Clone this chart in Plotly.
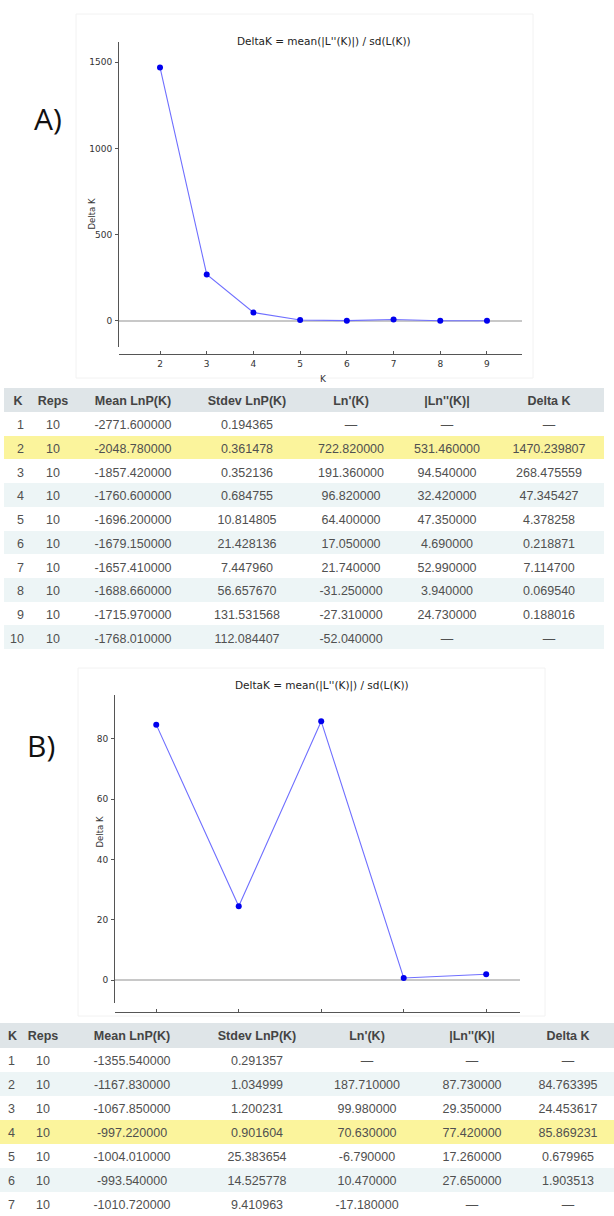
import plotly.graph_objects as go

W, H = 614, 1216

# ---------- data ----------
k_a = [2, 3, 4, 5, 6, 7, 8, 9]
delta_a = [1470.239807, 268.475559, 47.345427, 4.378258, 0.218871, 7.114700, 0.069540, 0.188016]

k_b = [2, 3, 4, 5, 6]
delta_b = [84.763395, 24.453617, 85.869231, 0.679965, 1.903513]

headers = ["K", "Reps", "Mean LnP(K)", "Stdev LnP(K)", "Ln'(K)", "|Ln''(K)|", "Delta K"]

ta_k = ["1", "2", "3", "4", "5", "6", "7", "8", "9", "10"]
ta_reps = ["10"] * 10
ta_mean = ["-2771.600000", "-2048.780000", "-1857.420000", "-1760.600000", "-1696.200000",
           "-1679.150000", "-1657.410000", "-1688.660000", "-1715.970000", "-1768.010000"]
ta_std = ["0.194365", "0.361478", "0.352136", "0.684755", "10.814805",
          "21.428136", "7.447960", "56.657670", "131.531568", "112.084407"]
ta_ln1 = ["—", "722.820000", "191.360000", "96.820000", "64.400000",
          "17.050000", "21.740000", "-31.250000", "-27.310000", "-52.040000"]
ta_ln2 = ["—", "531.460000", "94.540000", "32.420000", "47.350000",
          "4.690000", "52.990000", "3.940000", "24.730000", "—"]
ta_dk = ["—", "1470.239807", "268.475559", "47.345427", "4.378258",
         "0.218871", "7.114700", "0.069540", "0.188016", "—"]

tb_k = ["1", "2", "3", "4", "5", "6", "7"]
tb_reps = ["10"] * 7
tb_mean = ["-1355.540000", "-1167.830000", "-1067.850000", "-997.220000",
           "-1004.010000", "-993.540000", "-1010.720000"]
tb_std = ["0.291357", "1.034999", "1.200231", "0.901604", "25.383654", "14.525778", "9.410963"]
tb_ln1 = ["—", "187.710000", "99.980000", "70.630000", "-6.790000", "10.470000", "-17.180000"]
tb_ln2 = ["—", "87.730000", "29.350000", "77.420000", "17.260000", "27.650000", "—"]
tb_dk = ["—", "84.763395", "24.453617", "85.869231", "0.679965", "1.903513", "—"]

# ---------- helpers ----------
def px_x(x):
    return x / W

def px_y(y):
    return 1 - y / H

TITLE = "DeltaK = mean(|L''(K)|) / sd(L(K))"
CFONT = "DejaVu Sans"
AXC = "#555555"
TXC = "#333333"
LINE_C = "#6f6fff"
MARK_C = "#0000ee"

fig = go.Figure()

# ---------- chart A ----------
fig.add_trace(go.Scatter(x=k_a, y=delta_a, mode="lines+markers", xaxis="x", yaxis="y",
                         line=dict(color=LINE_C, width=1.1),
                         marker=dict(color=MARK_C, size=6), showlegend=False, hoverinfo="x+y"))
# ---------- chart B ----------
fig.add_trace(go.Scatter(x=k_b, y=delta_b, mode="lines+markers", xaxis="x2", yaxis="y2",
                         line=dict(color=LINE_C, width=1.1),
                         marker=dict(color=MARK_C, size=6), showlegend=False, hoverinfo="x+y"))

# ---------- tables ----------
TINT = "#edf5f6"
YEL = "#fbf49c"
HDR = "#dfe5e8"
WHITE = "#ffffff"

fill_a = [WHITE, YEL, WHITE, TINT, WHITE, TINT, WHITE, TINT, WHITE, TINT]
fill_b = [WHITE, TINT, WHITE, YEL, WHITE, TINT, WHITE]

def make_table(cols, fills, domx, domy, widths, halign, calign, hh, ch, fs):
    # no markup / plain spaces in header so plotly keeps the fixed row height
    hvals = [h.replace(" ", "\u00a0") for h in headers]
    return go.Table(
        domain=dict(x=domx, y=domy),
        columnwidth=widths,
        header=dict(values=hvals, fill_color=HDR, align=halign, height=hh,
                    line=dict(color="rgba(0,0,0,0)", width=0),
                    font=dict(family="Liberation Sans", size=fs, color="#444444",
                              weight="bold")),
        cells=dict(values=cols, fill_color=[fills] * len(cols), align=calign, height=ch,
                   line=dict(color="rgba(0,0,0,0)", width=0),
                   font=dict(family="Liberation Sans", size=fs, color="#505050")),
    )

fig.add_trace(make_table([ta_k, ta_reps, ta_mean, ta_std, ta_ln1, ta_ln2, ta_dk], fill_a,
                         [px_x(4), px_x(604)], [px_y(650), px_y(388)],
                         [28, 42, 118, 110, 98, 94, 110],
                         ["center"] * 7, ["right"] + ["center"] * 6, 24, 23.7, 12.5))

fig.add_trace(make_table([tb_k, tb_reps, tb_mean, tb_std, tb_ln1, tb_ln2, tb_dk], fill_b,
                         [0, 1], [0, px_y(1023)],
                         [24, 38, 140, 110, 110, 100, 92],
                         ["left"] + ["center"] * 6, ["left"] + ["center"] * 6, 24.5, 24.0, 12.5))

axis_common = dict(showline=True, linecolor=AXC, linewidth=1, ticklen=3,
                   tickcolor=AXC, showgrid=False, tickfont=dict(family=CFONT, size=9, color=TXC))

fig.update_layout(
    width=W, height=H, margin=dict(l=0, r=0, t=0, b=0),
    paper_bgcolor="white", plot_bgcolor="white",
    xaxis=dict(domain=[px_x(119), px_x(522)], range=[1.122, 9.75], anchor="free",
               position=px_y(354), tickvals=k_a, zeroline=False, ticks="inside",
               ticklabelstandoff=1, **axis_common),
    yaxis=dict(domain=[px_y(347), px_y(42)], range=[-152.6, 1617.8], anchor="x",
               tickvals=[0, 500, 1000, 1500], zeroline=True, zerolinecolor="#c8c8c8",
               zerolinewidth=1.5, ticks="outside", ticklabelstandoff=1, **axis_common),
    xaxis2=dict(domain=[px_x(115), px_x(520)], range=[1.50, 6.41], anchor="free",
                position=px_y(1012), tickvals=k_b, zeroline=False, showticklabels=False,
                ticks="inside", **axis_common),
    yaxis2=dict(domain=[px_y(1003), px_y(695)], range=[-7.63, 94.6], anchor="x2",
                tickvals=[0, 20, 40, 60, 80], zeroline=True, zerolinecolor="#c8c8c8",
                zerolinewidth=1.5, ticks="outside", ticklabelstandoff=1, **axis_common),
    shapes=[
        dict(type="rect", xref="paper", yref="paper", x0=px_x(76), x1=px_x(533),
             y0=px_y(378), y1=px_y(14), line=dict(color="#f2f2f2", width=1), layer="below"),
        dict(type="rect", xref="paper", yref="paper", x0=px_x(78), x1=px_x(545),
             y0=px_y(1016), y1=px_y(668), line=dict(color="#f2f2f2", width=1), layer="below"),
    ],
    annotations=[
        dict(text=TITLE, x=px_x(324), y=px_y(33), xref="paper", yref="paper", showarrow=False,
             font=dict(family=CFONT, size=10.5, color="#222222")),
        dict(text="K", x=px_x(323), y=px_y(372), xref="paper", yref="paper", showarrow=False,
             font=dict(family=CFONT, size=9, color=TXC)),
        dict(text="Delta K", x=px_x(85), y=px_y(197), xref="paper", yref="paper", showarrow=False,
             textangle=-90, font=dict(family=CFONT, size=8.5, color=TXC)),
        dict(text="A)", x=px_x(32), y=px_y(96), xref="paper", yref="paper", showarrow=False,
             font=dict(family="Open Sans", size=30, color="#111111")),
        dict(text=TITLE, x=px_x(322), y=px_y(685), xref="paper", yref="paper", showarrow=False,
             font=dict(family=CFONT, size=10.5, color="#222222")),
        dict(text="Delta K", x=px_x(92), y=px_y(850), xref="paper", yref="paper", showarrow=False,
             textangle=-90, font=dict(family=CFONT, size=8.5, color=TXC)),
        dict(text="B)", x=px_x(25), y=px_y(745), xref="paper", yref="paper", showarrow=False,
             font=dict(family="Open Sans", size=30, color="#111111")),
    ],
)

fig.write_html("out.html")
